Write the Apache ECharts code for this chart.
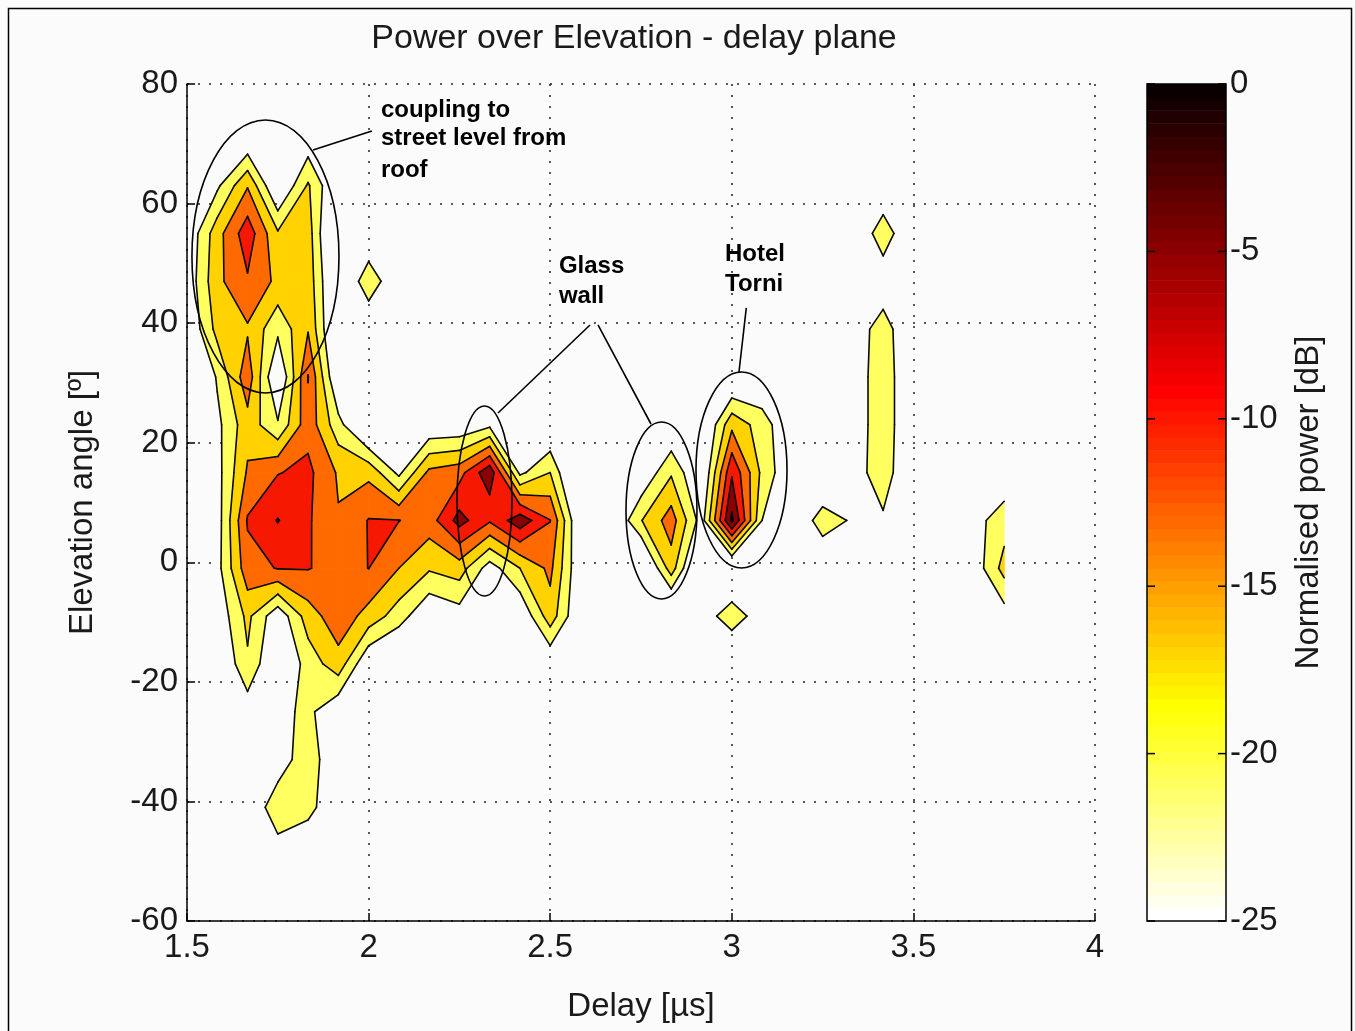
<!DOCTYPE html>
<html><head><meta charset="utf-8">
<script src="https://cdn.jsdelivr.net/npm/echarts@6/dist/echarts.min.js"></script>
<style>html,body{margin:0;padding:0;background:#fff;}#c{width:1355px;height:1031px;}</style>
</head><body><div id="c"></div>
<script>
// ---- data grid (delay in µs, elevation in deg, power in dB) ----
const delays = [1.5,1.5833,1.6667,1.75,1.8333,1.9167,2.0,2.0833,2.1667,2.25,2.3333,2.4167,2.5,2.5833,2.6667,2.75,2.8333,2.9167,3.0,3.0833,3.1667,3.25,3.3333,3.4167,3.5,3.5833,3.6667,3.75];
const elevations = [-57,-49,-41,-33,-25,-17,-9,-1,7,15,23,31,39,47,55,63,71,79];
const pM57 = [-30,-30,-30,-30,-30,-30,-30,-30,-30,-30,-30,-30,-30,-30,-30,-30,-30,-30,-30,-30,-30,-30,-30,-30,-30,-30,-30,-30];
const pM49 = [-30,-30,-30,-21.8,-23.8,-30,-30,-30,-30,-30,-30,-30,-30,-30,-30,-30,-30,-30,-30,-30,-30,-30,-30,-30,-30,-30,-30,-30];
const pM41 = [-30,-30,-22.4,-20,-20,-23.6,-30,-30,-30,-30,-30,-30,-30,-30,-30,-30,-30,-30,-30,-30,-30,-30,-30,-30,-30,-30,-30,-30];
const pM33 = [-30,-30,-26,-21.9,-20,-22.6,-30,-30,-30,-30,-30,-30,-30,-30,-30,-30,-30,-30,-30,-30,-30,-30,-30,-30,-30,-30,-30,-30];
const pM25 = [-30,-30,-23.5,-22.3,-20,-24.6,-30,-30,-30,-30,-30,-30,-30,-30,-30,-30,-30,-30,-30,-30,-30,-30,-30,-30,-30,-30,-30,-30];
const pM17 = [-30,-26,-17.6,-26,-19.3,-14.6,-25,-28,-30,-30,-30,-30,-24.9,-30,-30,-30,-30,-30,-28,-30,-30,-30,-30,-30,-30,-30,-30,-30];
const pM9  = [-30,-24,-16,-24,-15,-10.5,-14.5,-19,-25,-23,-28,-25,-14.7,-25.4,-30,-30,-29,-24,-18,-24,-30,-30,-30,-30,-30,-30,-25,-23];
const pM1  = [-30,-22.5,-10.5,-8.8,-8.8,-10.5,-8.95,-13,-16.5,-15,-23,-17,-12,-24.9,-30,-28.5,-14.9,-30,-28.2,-30,-30,-25,-30,-30,-30,-30,-23.6,-15.5];
const pP7  = [-30,-23,-8.6,-4.8,-8.5,-12.7,-8.8,-8.9,-10.9,-3.5,-8.5,-2.5,-8.9,-26,-26.2,-17.2,-11,-23,0,-21,-25,-19,-21.5,-21.4,-30,-30,-22.5,-18.8];
const pP15 = [-30,-22.5,-12.5,-9.2,-8,-13.5,-14,-22,-12,-10.5,-2,-22,-17,-30,-30,-24.8,-17.5,-26,-5.5,-18,-25,-26,-22.3,-19.5,-24,-30,-30,-24.3];
const pP23 = [-30,-22.1,-14.5,-20.5,-10.5,-19.5,-28,-30,-24.7,-24.5,-22,-30,-26,-30,-30,-30,-25.3,-27,-14,-19,-25,-30,-22.5,-19.5,-23.5,-30,-30,-30];
const pP31 = [-30,-20.5,-10.5,-26,-8.8,-26,-30,-30,-30,-30,-30,-30,-30,-30,-30,-30,-30,-30,-26.5,-25,-30,-30,-22.5,-19.5,-23.5,-30,-30,-30];
const pP39 = [-25,-15.7,-13.5,-20,-13.3,-28,-26,-30,-30,-30,-30,-30,-30,-30,-30,-30,-30,-30,-30,-30,-30,-30,-22.5,-19.8,-23.5,-30,-30,-30];
const pP47 = [-24,-14,-9.5,-14,-14.5,-28,-17.5,-26,-30,-30,-30,-30,-30,-30,-30,-30,-30,-30,-30,-30,-30,-30,-30,-22.7,-30,-30,-30,-30];
const pP55 = [-24.6,-14.6,-6.6,-16.5,-15,-30,-26,-30,-30,-30,-30,-30,-30,-30,-30,-30,-30,-30,-30,-30,-30,-30,-23.7,-19.5,-23.7,-30,-30,-30];
const pP63 = [-30,-21.8,-13.3,-26,-16.5,-26,-30,-30,-30,-30,-30,-30,-30,-30,-30,-30,-30,-30,-30,-30,-30,-30,-30,-23.3,-30,-30,-30,-30];
const pP71 = [-30,-30,-25,-30,-24,-30,-30,-30,-30,-30,-30,-30,-30,-30,-30,-30,-30,-30,-30,-30,-30,-30,-30,-30,-30,-30,-30,-30];
const pP79 = [-30,-30,-30,-30,-30,-30,-30,-30,-30,-30,-30,-30,-30,-30,-30,-30,-30,-30,-30,-30,-30,-30,-30,-30,-30,-30,-30,-30];
const power = [pM57,pM49,pM41,pM33,pM25,pM17,pM9,pM1,pP7,pP15,pP23,pP31,pP39,pP47,pP55,pP63,pP71,pP79];
const levels = [-21,-17,-13,-9,-5,-1];
const xTicks = [1.5,2,2.5,3,3.5,4];
const yTicks = [-60,-40,-20,0,20,40,60,80];
const cbTicks = [-25,-20,-15,-10,-5,0];

// annotations in data units (delay, elevation)
const ellipses = [ {c:[1.716,51.15], r:[0.2024,22.83]}, {c:[2.319,10.26], r:[0.0757,15.89]},
                   {c:[2.8064,8.67], r:[0.0977,14.8]}, {c:[3.0267,15.44], r:[0.1253,16.39]} ];
const pointers = [ [[1.847,68.96],[2.009,72.14]], [[2.6096,39.69],[2.3563,24.97]],
                   [[2.6316,39.69],[2.7775,23.13]], [[3.0399,42.54],[3.0198,31.83]] ];
const notes = [ {t:'coupling to', p:[2.034,75.65]}, {t:'street level from', p:[2.034,70.97]}, {t:'roof', p:[2.034,65.62]},
                {t:'Glass', p:[2.524,49.56]}, {t:'wall', p:[2.524,44.54]},
                {t:'Hotel', p:[2.9813,51.57]}, {t:'Torni', p:[2.9813,46.55]} ];

// ---- styles ----
const FONT = '"Liberation Sans", Arial, sans-serif';
function hot(idx){ const n=24,m=64; const r=idx<=n?idx/n:1; const g=idx<=n?0:(idx<=2*n?(idx-n)/n:1); const b=idx<=2*n?0:(idx-2*n)/(m-2*n);
  return 'rgb('+Math.round(r*255)+','+Math.round(g*255)+','+Math.round(b*255)+')'; }
const bandColors = ['#FFFF60','#FFD200','#FF6A00','#F61800','#8A0000','#200000'];

// ---- filled contours (marching squares, saddle resolved by cell mean) ----
const fills = [], segs = [];
function interp(a,c,L){ const t=(L-a.z)/(c.z-a.z); return {x:a.x+t*(c.x-a.x),y:a.y+t*(c.y-a.y),k:true}; }
for (let j=0;j<elevations.length-1;j++){
  for (let i=0;i<delays.length-1;i++){
    const q = [ {x:delays[i],y:elevations[j],z:power[j][i]}, {x:delays[i+1],y:elevations[j],z:power[j][i+1]},
                {x:delays[i+1],y:elevations[j+1],z:power[j+1][i+1]}, {x:delays[i],y:elevations[j+1],z:power[j+1][i]} ];
    const mean = (q[0].z+q[1].z+q[2].z+q[3].z)/4;
    levels.forEach((L,b)=>{
      const ins = q.map(p=>p.z>=L);
      const saddle = ins[0]===ins[2] && ins[1]===ins[3] && ins[0]!==ins[1];
      if (saddle && mean < L) {
        for (let n=0;n<4;n++){ if(!ins[n]) continue;
          const p=q[n], prev=q[(n+3)%4], next=q[(n+1)%4];
          const c1=interp(prev,p,L), c2=interp(p,next,L);
          fills.push({b:b, pts:[[c1.x,c1.y],[p.x,p.y],[c2.x,c2.y]]});
          segs.push([[c1.x,c1.y],[c2.x,c2.y]]);
        }
        return;
      }
      const out=[];
      for(let n=0;n<4;n++){ const a=q[n], c=q[(n+1)%4];
        if(ins[n]) out.push({x:a.x,y:a.y,k:false});
        if(ins[n]!==ins[(n+1)%4]) out.push(interp(a,c,L)); }
      if(out.length>=3){
        fills.push({b:b, pts:out.map(p=>[p.x,p.y])});
        for(let n=0;n<out.length;n++){ const p=out[n], r=out[(n+1)%out.length]; if(p.k&&r.k) segs.push([[p.x,p.y],[r.x,r.y]]); }
      }
    });
  }
}
fills.sort((a,b)=>a.b-b.b);
const cbSteps=[]; for(let i=0;i<64;i++) cbSteps.push([0.5, -25+i*25/64, -25+(i+1)*25/64, 64-i]);

const chart = echarts.init(document.getElementById('c'), null, {renderer:'canvas'});
const axLabel = {fontSize:33, color:'#1a1a1a', fontFamily:FONT};
const option = {
  backgroundColor:'#fbfbfb', animation:false,
  grid:[ {left:187,top:84,width:908,height:837,show:false},
         {left:1147,top:84,width:79,height:837,show:false} ],
  xAxis:[ {gridIndex:0,type:'value',min:xTicks[0],max:xTicks[xTicks.length-1],interval:0.5,
           axisLine:{show:true,onZero:false,lineStyle:{color:'#000',width:1.5}},
           axisTick:{show:true,inside:true,length:8,lineStyle:{color:'#000',width:1.5}},
           axisLabel:Object.assign({margin:10},axLabel),
           splitLine:{show:true,lineStyle:{color:'#222',width:1.5,type:[2,9]}},
           name:'Delay [µs]',nameLocation:'middle',nameGap:69,nameTextStyle:axLabel},
          {gridIndex:1,type:'value',min:0,max:1,show:false} ],
  yAxis:[ {gridIndex:0,type:'value',min:yTicks[0],max:yTicks[yTicks.length-1],interval:20,
           axisLine:{show:true,onZero:false,lineStyle:{color:'#000',width:1.5}},
           axisTick:{show:true,inside:true,length:8,lineStyle:{color:'#000',width:1.5}},
           axisLabel:Object.assign({margin:9},axLabel),
           splitLine:{show:true,lineStyle:{color:'#222',width:1.5,type:[2,9]}},
           name:'Elevation angle [º]',nameLocation:'middle',nameGap:88,nameRotate:90,nameTextStyle:axLabel},
          {gridIndex:1,type:'value',position:'right',min:cbTicks[0],max:cbTicks[cbTicks.length-1],interval:5,
           axisLine:{show:false}, axisTick:{show:false},
           axisLabel:Object.assign({margin:4},axLabel), splitLine:{show:false},
           name:'Normalised power [dB]',nameLocation:'middle',nameGap:66,nameRotate:90,nameTextStyle:axLabel} ],
  series:[
    {type:'custom',xAxisIndex:0,yAxisIndex:0,silent:true,clip:true,z:2,
     data:fills.map(f=>f.pts[0]),
     renderItem:(params,api)=>{ const f=fills[params.dataIndex]; const col=bandColors[f.b];
       return {type:'polygon',shape:{points:f.pts.map(p=>api.coord(p))},style:{fill:col,stroke:col,lineWidth:0.8}}; }},
    {type:'custom',xAxisIndex:0,yAxisIndex:0,silent:true,clip:true,z:3,
     data:segs.map(s=>s[0]),
     renderItem:(params,api)=>{ const s=segs[params.dataIndex]; const a=api.coord(s[0]), b=api.coord(s[1]);
       return {type:'line',shape:{x1:a[0],y1:a[1],x2:b[0],y2:b[1]},style:{stroke:'#0a0a0a',lineWidth:1.6,lineCap:'round'}}; }},
    {type:'custom',xAxisIndex:1,yAxisIndex:1,silent:true,z:2,
     data:cbSteps,
     renderItem:(params,api)=>{ const s=cbSteps[params.dataIndex]; const a=api.coord([0,s[2]]), b=api.coord([1,s[1]]);
       return {type:'rect',shape:{x:a[0],y:a[1],width:b[0]-a[0],height:b[1]-a[1]+0.6},style:{fill:hot(s[3])}}; }}
  ]
};
chart.setOption(option);

// annotations, colorbar frame/ticks and figure frame
const px = p => chart.convertToPixel({gridIndex:0}, p);
const cbpx = p => chart.convertToPixel({xAxisIndex:1,yAxisIndex:1}, p);
const g = [];
g.push({type:'rect',shape:{x:8.5,y:8.5,width:1343,height:1040},style:{fill:null,stroke:'#000',lineWidth:1.5},z:0,silent:true});
g.push({type:'text',x:634,y:39,style:{text:'Power over Elevation - delay plane',font:'34px '+FONT,fill:'#1a1a1a',textAlign:'center',textVerticalAlign:'middle',align:'center',verticalAlign:'middle'},z:10});
const cbTop=cbpx([0,cbTicks[cbTicks.length-1]]), cbBot=cbpx([1,cbTicks[0]]);
g.push({type:'rect',shape:{x:cbTop[0],y:cbTop[1],width:cbBot[0]-cbTop[0],height:cbBot[1]-cbTop[1]},style:{fill:null,stroke:'#000',lineWidth:1.5},z:20,silent:true});
cbTicks.forEach(v=>{ const l=cbpx([0,v]), r=cbpx([1,v]);
  g.push({type:'line',shape:{x1:l[0],y1:l[1],x2:l[0]+8,y2:l[1]},style:{stroke:'#000',lineWidth:1.5},z:20,silent:true});
  g.push({type:'line',shape:{x1:r[0]-8,y1:r[1],x2:r[0],y2:r[1]},style:{stroke:'#000',lineWidth:1.5},z:20,silent:true}); });
ellipses.forEach(e=>{ const c=px(e.c); const rx=px([e.c[0]+e.r[0],e.c[1]])[0]-c[0]; const ry=c[1]-px([e.c[0],e.c[1]+e.r[1]])[1];
  g.push({type:'ellipse',shape:{cx:c[0],cy:c[1],rx:rx,ry:ry},style:{fill:null,stroke:'#000',lineWidth:1.6},z:10,silent:true}); });
pointers.forEach(l=>{ const a=px(l[0]), b=px(l[1]);
  g.push({type:'line',shape:{x1:a[0],y1:a[1],x2:b[0],y2:b[1]},style:{stroke:'#000',lineWidth:1.6},z:10,silent:true}); });
notes.forEach(n=>{ const p=px(n.p);
  g.push({type:'text',x:p[0],y:p[1],style:{text:n.t,font:'bold 24px '+FONT,fill:'#000',textAlign:'left',textVerticalAlign:'middle',align:'left',verticalAlign:'middle'},z:11}); });
chart.setOption({graphic:g});
</script></body></html>
